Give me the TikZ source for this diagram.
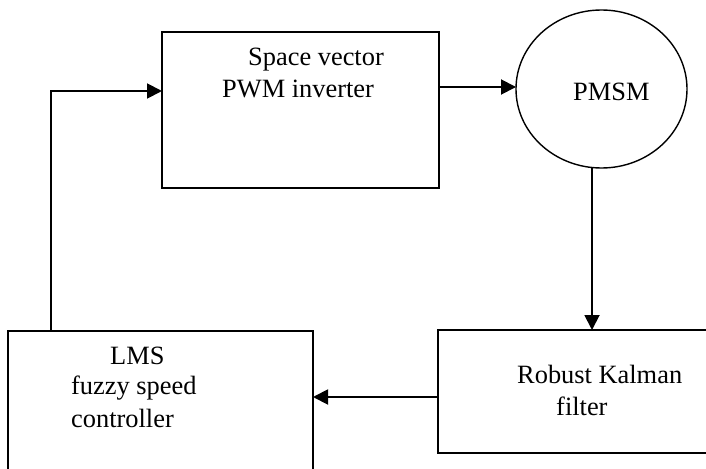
\documentclass[tikz,border=0pt]{standalone}
\usepackage{fontspec}
\setmainfont{Liberation Serif}
\usetikzlibrary{arrows.meta,shapes.geometric}

\tikzset{
  block/.style={draw, line width=1.6pt, outer sep=0pt, inner sep=0pt},
  motor/.style={draw, ellipse, line width=1.4pt, outer sep=0pt, inner sep=0pt},
  conn/.style={line width=1.9pt, -{Triangle[length=15pt,width=15pt]}},
  plain/.style={line width=1.9pt},
  lbl/.style={anchor=base west, inner sep=0pt, font=\fontsize{26.4}{32}\selectfont}
}

\begin{document}
\begin{tikzpicture}[x=1pt,y=-1pt]
  \clip (0,0) rectangle (706,468);

  % blocks
  \node[block, minimum width=277pt, minimum height=156pt] (inv) at (300.5,110) {};
  \node[motor, minimum width=171pt, minimum height=158pt] (pmsm) at (601.5,89) {};
  \node[block, minimum width=282pt, minimum height=123pt] (kal) at (579,391.5) {};
  \node[block, minimum width=305pt, minimum height=149pt] (lms) at (160.5,405.5) {};

  % labels
  \node[lbl] (t1) at (248,66) {Space vector};
  \node[lbl] (t2) at (222,98) {PWM inverter};
  \node[lbl] (t3) at (573,101) {PMSM};
  \node[lbl] (t4) at (517,383) {Robust Kalman};
  \node[lbl] (t5) at (556,415) {filter};
  \node[lbl] (t6) at (110,364) {LMS};
  \node[lbl] (t7) at (71,394) {fuzzy speed};
  \node[lbl] (t8) at (71,427) {controller};

  % connectors
  \draw[conn] (pmsm.west -| inv.east) ++(0,-2) -- ++(77,0);
  \coordinate (down) at ([xshift=-9.5pt]pmsm.south);
  \draw[conn] (down) -- (down |- kal.north);
  \coordinate (back) at ([yshift=-5.5pt]kal.west);
  \draw[conn] (back) -- (back -| lms.east);
  \coordinate (fb) at (51,91);
  \draw[plain] (fb |- lms.north) -- (fb);
  \draw[conn] ([xshift=-0.95pt]fb) -- (fb -| inv.west);
\end{tikzpicture}
\end{document}
